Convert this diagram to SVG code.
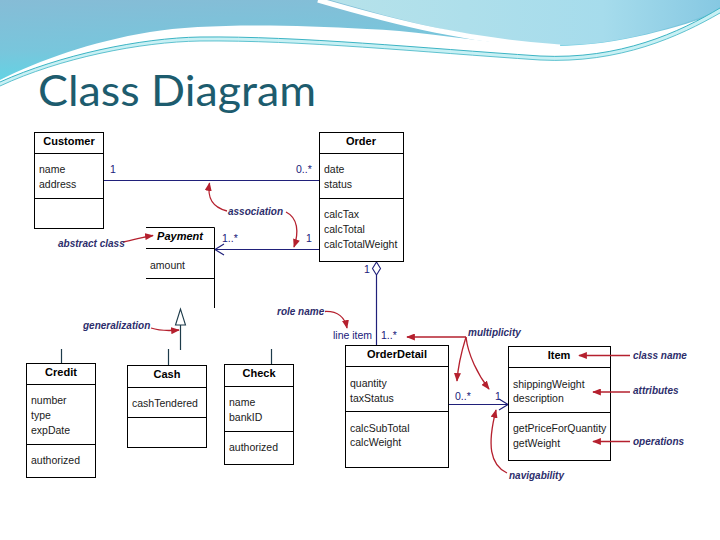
<svg xmlns="http://www.w3.org/2000/svg" width="720" height="540" viewBox="0 0 720 540">
<defs>
<linearGradient id="gL" x1="0" y1="0" x2="0.3" y2="1">
<stop offset="0" stop-color="#86bcd6"/>
<stop offset="0.6" stop-color="#78c6dc"/>
<stop offset="1" stop-color="#5ed6e6"/>
</linearGradient>
<linearGradient id="gR" x1="0" y1="0" x2="1" y2="0">
<stop offset="0" stop-color="#b6e2ea"/>
<stop offset="0.7" stop-color="#a6dcec"/>
<stop offset="1" stop-color="#86c8e2"/>
</linearGradient>
<marker id="ra" viewBox="0 0 10 8" refX="9" refY="4" markerWidth="9" markerHeight="7" markerUnits="userSpaceOnUse" orient="auto">
<path d="M0,0 L10,4 L0,8 Z" fill="#b5202e"/>
</marker>
<style>
.box{fill:#fff;stroke:#000;stroke-width:1}
.ln{stroke:#000;stroke-width:1;fill:none}
.cn{font-family:"Liberation Sans",Arial,sans-serif;font-size:11px;font-weight:bold;fill:#000;text-anchor:middle}
.at{font-family:"Liberation Sans",Arial,sans-serif;font-size:10.5px;fill:#1a1a1a}
.as{stroke:#20207a;stroke-width:1.2;fill:none}
.gz{stroke:#1d3b4a;stroke-width:1.2;fill:none}
.ml{font-family:"Liberation Sans",Arial,sans-serif;font-size:10.5px;fill:#20207a}
.an{font-family:"Liberation Sans",Arial,sans-serif;font-size:10px;font-style:italic;font-weight:bold;fill:#2d2d6b}
.ra{stroke:#b5202e;stroke-width:1.3;fill:none;marker-end:url(#ra)}
</style>
</defs>
<rect width="720" height="540" fill="#fff"/>
<!-- header wave -->
<path d="M0,0 H720 V13 C680,26 620,46 555,46 C480,44 420,30 367,29 C280,24 200,24 150,32 C90,42 40,60 0,80 Z" fill="url(#gL)"/>
<path d="M330,0 H720 V10 C670,30 610,46 560,45 C470,40 400,20 330,0 Z" fill="url(#gR)"/>
<path d="M318,0 C400,24 470,41 560,47" stroke="#fff" stroke-width="5" fill="none"/>
<path d="M0,82 C60,55 140,38 200,37 C300,36 420,48 540,56 C620,60 680,32 720,8 L720,13 C680,36 620,64 540,60 C420,52 300,40 200,41 C140,42 60,58 0,86 Z" fill="#c8f0f4"/>
<path d="M0,82 C60,55 140,38 200,37 C300,36 420,48 540,56 C620,60 680,32 720,8" stroke="#3cb4c4" stroke-width="1" fill="none"/>
<path d="M0,86 C60,58 140,42 200,41 C300,40 420,52 540,60 C620,64 680,36 720,13" stroke="#3cb4c4" stroke-width="0.8" fill="none"/>
<text x="38" y="106" font-family="Lato,'Open Sans',sans-serif" font-size="42" fill="#1d5c6e" textLength="278" lengthAdjust="spacingAndGlyphs">Class Diagram</text>

<g id="connectors">
<line class="as" x1="104" y1="180.5" x2="319" y2="180.5"/>
<line class="as" x1="215" y1="249.5" x2="319" y2="249.5"/>
<polyline class="as" points="224,244 215,249.5 224,255"/>
<line class="as" x1="376.5" y1="275" x2="376.5" y2="345"/>
<polygon points="376.5,262 380.5,268.5 376.5,275 372.5,268.5" fill="#fff" stroke="#20207a" stroke-width="1.1"/>
<line class="as" x1="448" y1="404.5" x2="508" y2="404.5"/>
<polyline class="as" points="499,399 508,404.5 499,410"/>
<polygon points="180.5,309 175.5,325 185.5,325" fill="#fff" stroke="#1d3b4a" stroke-width="1.1"/>
<line class="gz" x1="180.5" y1="325" x2="180.5" y2="350"/>
<line class="gz" x1="61.5" y1="349" x2="61.5" y2="363"/>
<line class="gz" x1="168.5" y1="349" x2="168.5" y2="365"/>
<line class="gz" x1="271.5" y1="349" x2="271.5" y2="364"/>
<text class="ml" x="110" y="173">1</text>
<text class="ml" x="296" y="173" fill="#333">0..*</text>
<text class="ml" x="222" y="242">1..*</text>
<text class="ml" x="306" y="242">1</text>
<text class="ml" x="364" y="273" fill="#222">1</text>
<text class="ml" x="333" y="339" fill="#222">line item</text>
<text class="ml" x="381" y="339" fill="#222">1..*</text>
<text class="ml" x="455" y="400">0..*</text>
<text class="ml" x="495" y="400">1</text>
</g>

<g id="Customer">
<rect class="box" x="34.5" y="132.5" width="69" height="96"/>
<line class="ln" x1="34.5" y1="153.5" x2="103.5" y2="153.5"/>
<line class="ln" x1="34.5" y1="198.5" x2="103.5" y2="198.5"/>
<text class="cn" x="69" y="145" font-weight="normal">Customer</text>
<text class="at" x="39" y="173">name</text>
<text class="at" x="39" y="188">address</text>
</g>

<g id="Order">
<rect class="box" x="319.5" y="132.5" width="84" height="129"/>
<line class="ln" x1="319.5" y1="153.5" x2="403.5" y2="153.5"/>
<line class="ln" x1="319.5" y1="198.5" x2="403.5" y2="198.5"/>
<text class="cn" x="361" y="145">Order</text>
<text class="at" x="324" y="173">date</text>
<text class="at" x="324" y="188">status</text>
<text class="at" x="324" y="218">calcTax</text>
<text class="at" x="324" y="233">calcTotal</text>
<text class="at" x="324" y="248">calcTotalWeight</text>
</g>

<g id="Payment">
<line class="ln" x1="146" y1="227.5" x2="214.5" y2="227.5"/>
<line class="ln" x1="146" y1="248.5" x2="214.5" y2="248.5"/>
<line class="ln" x1="146" y1="278.5" x2="214.5" y2="278.5"/>
<line class="ln" x1="214.5" y1="227.5" x2="214.5" y2="308"/>
<text class="cn" x="180" y="240" font-style="italic">Payment</text>
<text class="at" x="150" y="269">amount</text>
</g>

<g id="Credit">
<rect class="box" x="26.5" y="363.5" width="69" height="114"/>
<line class="ln" x1="26.5" y1="384.5" x2="95.5" y2="384.5"/>
<line class="ln" x1="26.5" y1="444.5" x2="95.5" y2="444.5"/>
<text class="cn" x="61" y="376">Credit</text>
<text class="at" x="31" y="404">number</text>
<text class="at" x="31" y="419">type</text>
<text class="at" x="31" y="434">expDate</text>
<text class="at" x="31" y="464">authorized</text>
</g>

<g id="Cash">
<rect class="box" x="127.5" y="365.5" width="79" height="82"/>
<line class="ln" x1="127.5" y1="387.5" x2="206.5" y2="387.5"/>
<line class="ln" x1="127.5" y1="417.5" x2="206.5" y2="417.5"/>
<text class="cn" x="167" y="378">Cash</text>
<text class="at" x="132" y="407">cashTendered</text>
</g>

<g id="Check">
<rect class="box" x="224.5" y="364.5" width="69" height="100"/>
<line class="ln" x1="224.5" y1="386.5" x2="293.5" y2="386.5"/>
<line class="ln" x1="224.5" y1="431.5" x2="293.5" y2="431.5"/>
<text class="cn" x="259" y="377">Check</text>
<text class="at" x="229" y="406">name</text>
<text class="at" x="229" y="421">bankID</text>
<text class="at" x="229" y="451">authorized</text>
</g>

<g id="OrderDetail">
<rect class="box" x="345.5" y="345.5" width="103" height="122"/>
<line class="ln" x1="345.5" y1="366.5" x2="448.5" y2="366.5"/>
<line class="ln" x1="345.5" y1="411.5" x2="448.5" y2="411.5"/>
<text class="cn" x="397" y="358">OrderDetail</text>
<text class="at" x="350" y="387">quantity</text>
<text class="at" x="350" y="402">taxStatus</text>
<text class="at" x="350" y="432">calcSubTotal</text>
<text class="at" x="350" y="446">calcWeight</text>
</g>

<g id="Item">
<rect class="box" x="508.5" y="346.5" width="102" height="114"/>
<line class="ln" x1="508.5" y1="367.5" x2="610.5" y2="367.5"/>
<line class="ln" x1="508.5" y1="412.5" x2="610.5" y2="412.5"/>
<text class="cn" x="559" y="359">Item</text>
<text class="at" x="513" y="388">shippingWeight</text>
<text class="at" x="513" y="402">description</text>
<text class="at" x="513" y="432">getPriceForQuantity</text>
<text class="at" x="513" y="447">getWeight</text>
</g>

<g id="annotations">
<path class="ra" d="M123,242 C135,240 142,237 153,235.5"/>
<path class="ra" d="M227,211 C212,207 207,198 209.5,183"/>
<path class="ra" d="M286,212 C298,218 299,232 294,247"/>
<path class="ra" d="M325,311.5 C338,311 345,318 347,328"/>
<path class="ra" d="M466,337 H407"/>
<path class="ra" d="M466,337 C462,350 458,365 457,381"/>
<path class="ra" d="M466,337 C468,355 478,375 489,389"/>
<path class="ra" d="M507,473 C490,465 487,445 496,410"/>
<path class="ra" d="M151,328 C160,331 168,331 179,330"/>
<path class="ra" d="M630,355.5 H579"/>
<path class="ra" d="M630,392 H593"/>
<path class="ra" d="M630,441.5 H593"/>
<text class="an" x="58" y="247">abstract class</text>
<text class="an" x="228" y="215">association</text>
<text class="an" x="277" y="315">role name</text>
<text class="an" x="468" y="336">multiplicity</text>
<text class="an" x="83" y="329">generalization</text>
<text class="an" x="633" y="359">class name</text>
<text class="an" x="633" y="394">attributes</text>
<text class="an" x="633" y="445">operations</text>
<text class="an" x="509" y="479">navigability</text>
</g>
</svg>
